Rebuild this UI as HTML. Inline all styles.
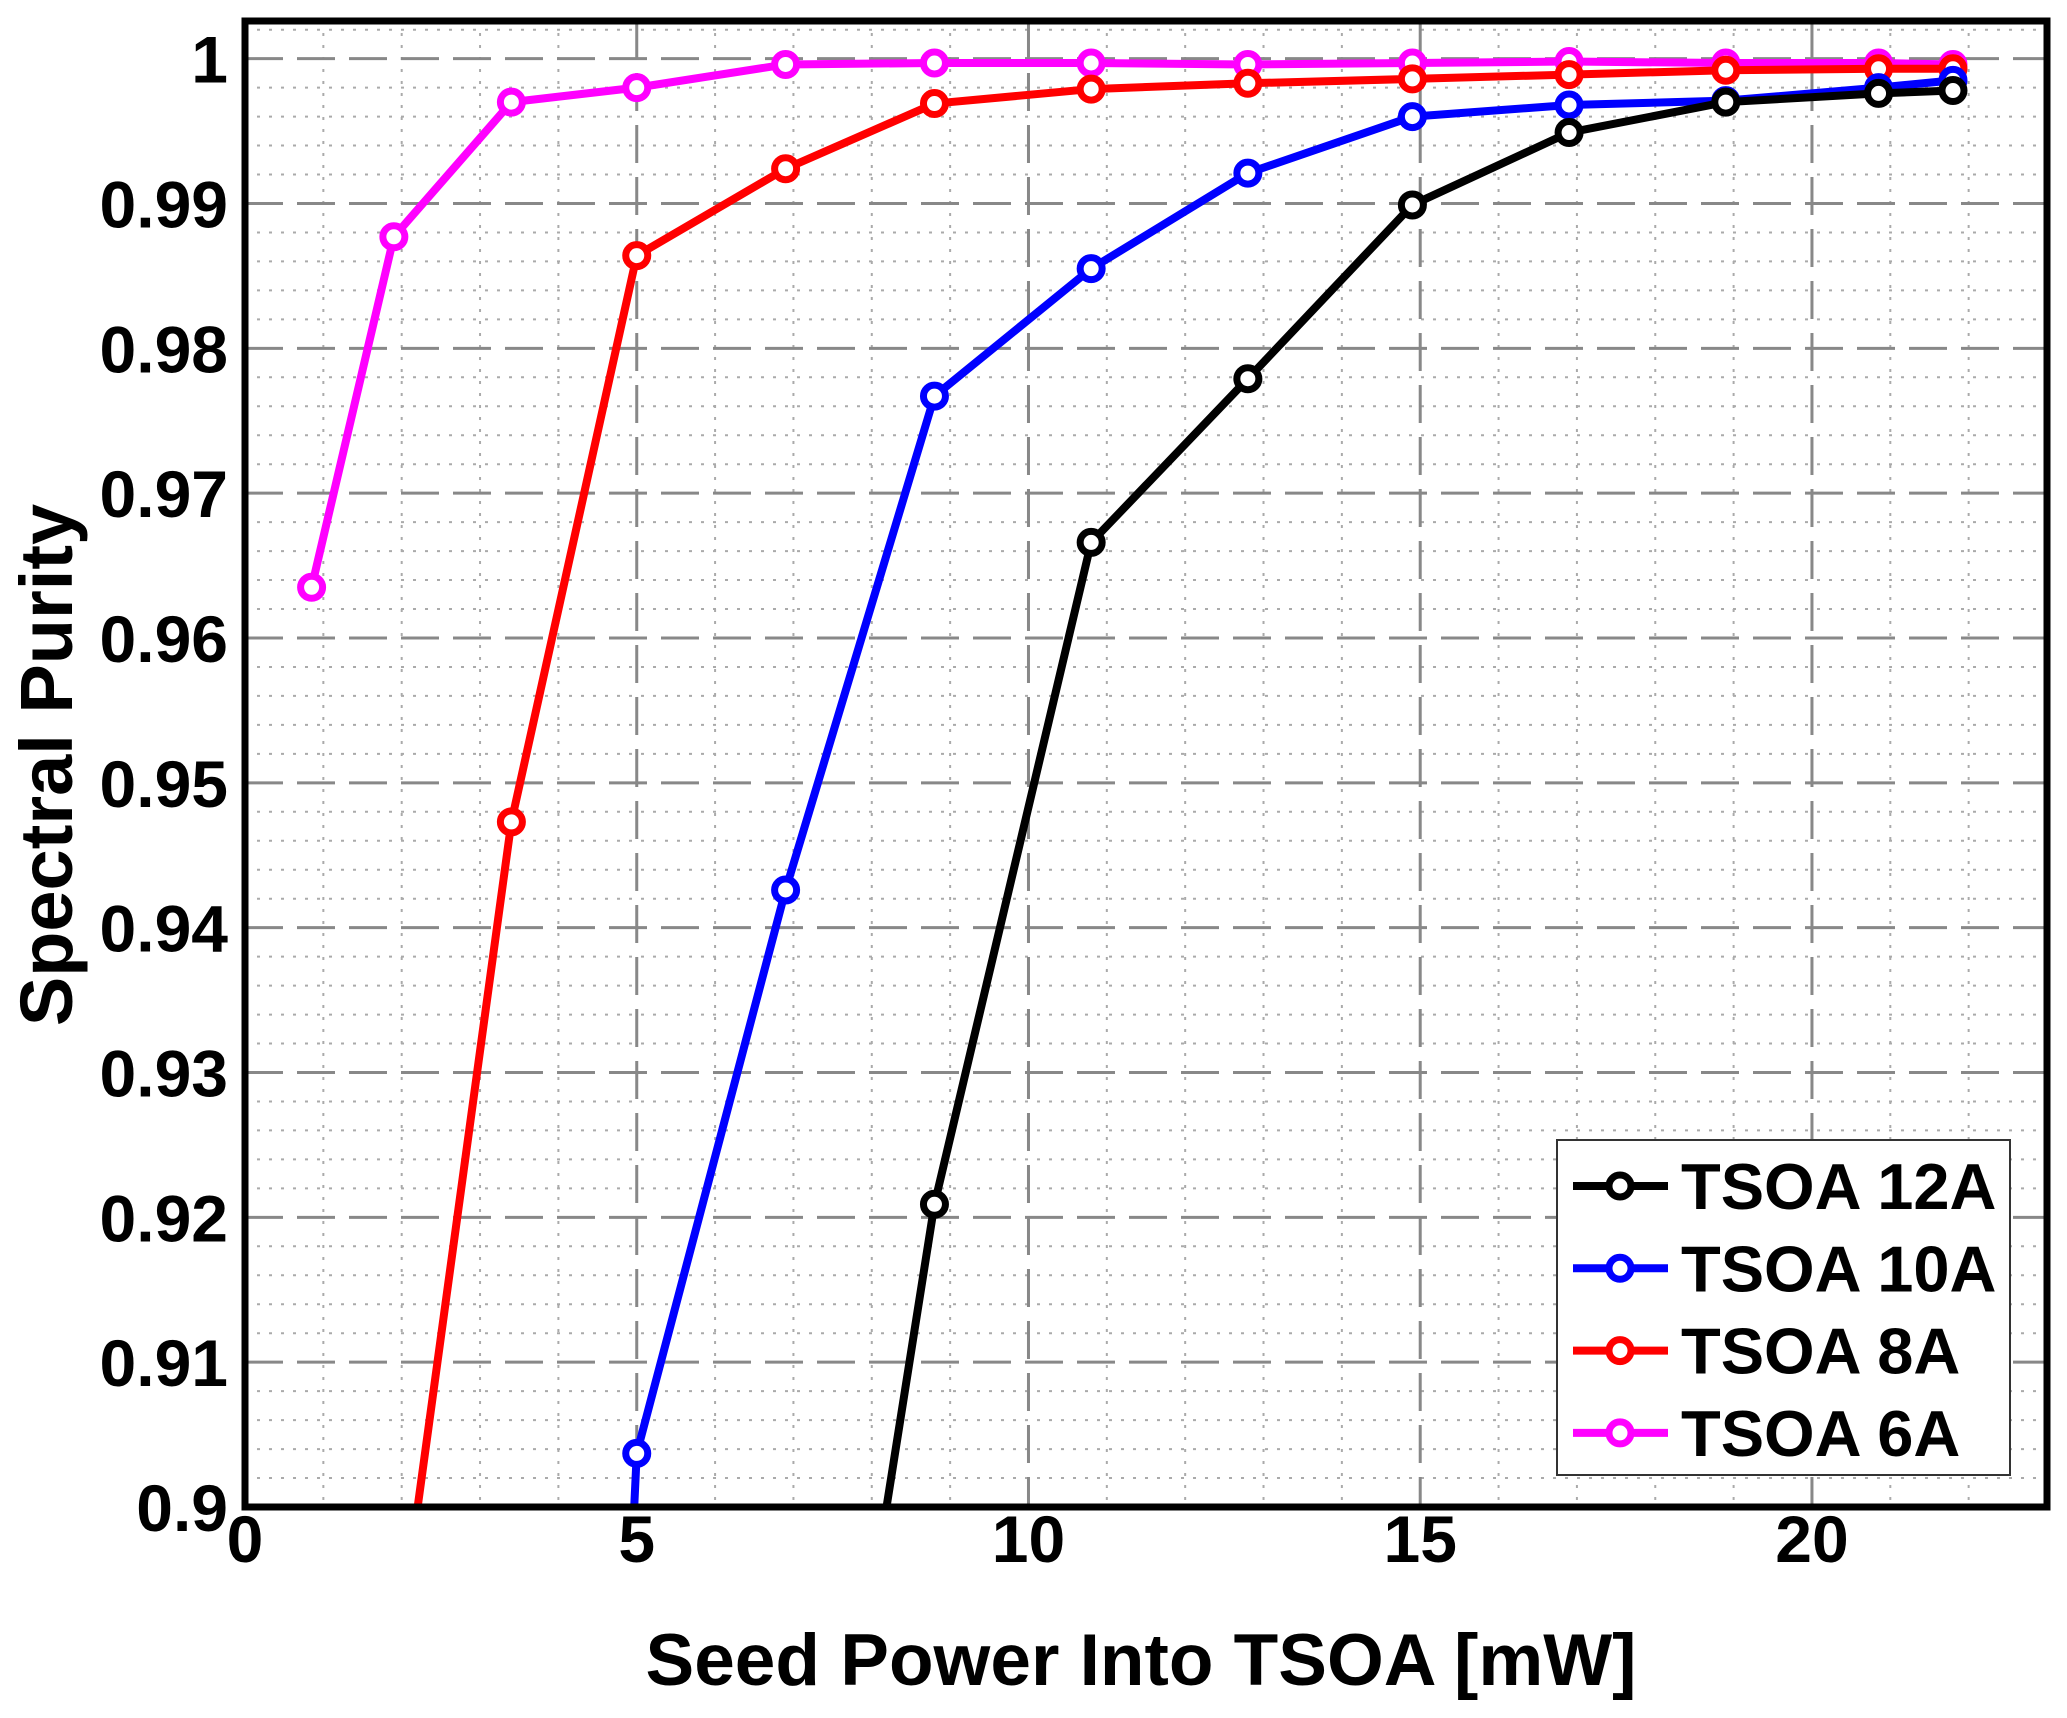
<!DOCTYPE html>
<html><head><meta charset="utf-8"><style>
html,body{margin:0;padding:0;background:#fff;overflow:hidden;width:2067px;height:1718px;}
svg{display:block;font-family:"Liberation Sans",Arial,sans-serif;font-weight:bold;}
</style></head><body>
<svg id="chart" width="2067" height="1718" viewBox="0 0 2067 1718">
<defs><clipPath id="plotclip"><rect x="245" y="21" width="1802" height="1486"/></clipPath></defs>
<g id="grid"></g>
<g id="series" clip-path="url(#plotclip)"></g>
<rect x="245" y="21" width="1802" height="1486" fill="none" stroke="#000" stroke-width="7"/>
<g id="ticks"></g>
<text x="1141" y="1685" font-size="73" text-anchor="middle">Seed Power Into TSOA [mW]</text>
<text transform="translate(72,765) rotate(-90)" font-size="74" text-anchor="middle">Spectral Purity</text>
<g id="legend"></g>
</svg>
<script>
const xTicks=[0,5,10,15,20];
const yTicks=[0.9,0.91,0.92,0.93,0.94,0.95,0.96,0.97,0.98,0.99,1];
const yTickLabels=["0.9","0.91","0.92","0.93","0.94","0.95","0.96","0.97","0.98","0.99","1"];
const seriesNames=["TSOA 12A","TSOA 10A","TSOA 8A","TSOA 6A"];
const seriesColors=["#000000","#0000ff","#ff0000","#ff00ff"];
const x12=[6.9,8.8,10.8,12.8,14.9,16.9,18.9,20.85,21.8];
const y12=[0.856,0.9209,0.9666,0.9779,0.9899,0.9949,0.9970,0.9976,0.9978];
const x10=[3.4,5,6.9,8.8,10.8,12.8,14.9,16.9,18.9,20.85,21.8];
const y10=[0.72,0.9037,0.9426,0.9767,0.9855,0.9921,0.9960,0.9968,0.9971,0.9980,0.9985];
const x8=[1.9,3.4,5,6.9,8.8,10.8,12.8,14.9,16.9,18.9,20.85,21.8];
const y8=[0.888,0.9473,0.9864,0.9924,0.9969,0.9979,0.9983,0.9986,0.9989,0.9992,0.9993,0.9993];
const x6=[0.85,1.9,3.4,5,6.9,8.8,10.8,12.8,14.9,16.9,18.9,20.85,21.8];
const y6=[0.9635,0.9877,0.9970,0.9980,0.9996,0.9997,0.9997,0.9996,0.9997,0.9998,0.9997,0.9997,0.9996];

const NS="http://www.w3.org/2000/svg";
const L=245,R=2047,T=21,B=1507;
const xmin=0,xmax=23,ymin=0.9,ymax=1.0026;
const sx=v=>L+(v-xmin)/(xmax-xmin)*(R-L);
const sy=v=>B-(v-ymin)/(ymax-ymin)*(B-T);
function mk(tag,attrs,parent){const e=document.createElementNS(NS,tag);for(const k in attrs)e.setAttribute(k,attrs[k]);parent.appendChild(e);return e;}
const grid=document.getElementById('grid'),ticks=document.getElementById('ticks'),ser=document.getElementById('series'),leg=document.getElementById('legend');
for(let i=1;i<=23;i++){if(i%5===0)continue;const l=mk('line',{x1:sx(i),x2:sx(i),y1:T,y2:B,stroke:'#aaa','stroke-width':2,'stroke-dasharray':'3 9'},grid);

}
for(let i=1;i<=51;i++){const v=0.9+i*0.002;if(i%5===0||v>ymax)continue;const l=mk('line',{x1:L,x2:R,y1:sy(v),y2:sy(v),stroke:'#aaa','stroke-width':2,'stroke-dasharray':'3 9'},grid);

}
xTicks.forEach(v=>{if(v>0){const l=mk('line',{x1:sx(v),x2:sx(v),y1:T,y2:B,stroke:'#888','stroke-width':3,'stroke-dasharray':'38 14'},grid);

}
const t=mk('text',{x:sx(v),y:1562,'font-size':66,'text-anchor':'middle'},ticks);t.textContent=v;

});
yTicks.forEach((v,i)=>{if(i>0){const l=mk('line',{x1:L,x2:R,y1:sy(v),y2:sy(v),stroke:'#888','stroke-width':3,'stroke-dasharray':'38 14'},grid);

}
const t=mk('text',{x:228,y:sy(v)+24,'font-size':66,'text-anchor':'end'},ticks);t.textContent=yTickLabels[i];

});
const xs=[x12,x10,x8,x6],ys=[y12,y10,y8,y6];
[3,2,1,0].forEach(s=>{const c=seriesColors[s];
const p=mk('polyline',{points:xs[s].map((x,i)=>sx(x)+','+sy(ys[s][i])).join(' '),fill:'none',stroke:c,'stroke-width':8,'stroke-linejoin':'round'},ser);


xs[s].forEach((x,i)=>{const m=mk('circle',{cx:sx(x),cy:sy(ys[s][i]),r:11,fill:'#fff',stroke:c,'stroke-width':7},ser);

});});
const lb=mk('rect',{x:1557,y:1140,width:453,height:335,fill:'#fff',stroke:'#333','stroke-width':2},leg);


seriesNames.forEach((n,i)=>{const y=1186+i*82.3;const g=mk('g',{},leg);


mk('line',{x1:1573,x2:1668,y1:y,y2:y,stroke:seriesColors[i],'stroke-width':8},g);
mk('circle',{cx:1620,cy:y,r:11,fill:'#fff',stroke:seriesColors[i],'stroke-width':7},g);
const t=mk('text',{x:1681,y:y+23,'font-size':65},g);t.textContent=n;});
</script>
</body></html>
